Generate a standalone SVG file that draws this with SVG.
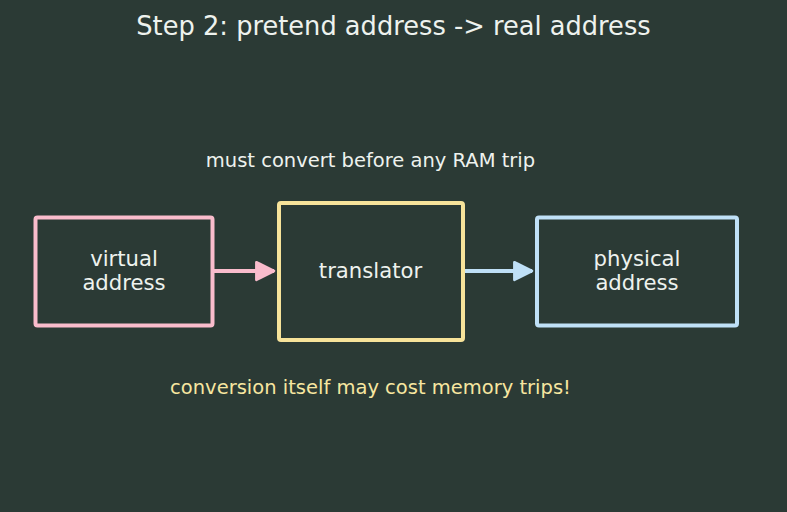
<svg xmlns="http://www.w3.org/2000/svg" width="787" height="512" viewBox="0 0 787 512">
<defs>
<style>
text{font-family:"DejaVu Sans","Liberation Sans",sans-serif;text-anchor:middle}
.title{font-size:25.7px;fill:#eef2ee}
.lbl{font-size:21.2px;fill:#eef2ee}
.note{font-size:19.5px;fill:#eef2ee}
.warn{font-size:19.5px;fill:#f7e6a0}
.box{fill:#2b3a35;stroke-width:4}
.edge{fill:none;stroke-width:4}
</style>
<marker id="ahP" viewBox="0 0 10 10" refX="9" refY="5" markerWidth="5.5" markerHeight="5.5" markerUnits="strokeWidth" orient="auto"><path d="M1,1 L9,5 L1,9 Z" fill="#f9bccc" stroke="#f9bccc" stroke-width="1.2" stroke-linejoin="round"/></marker>
<marker id="ahB" viewBox="0 0 10 10" refX="9" refY="5" markerWidth="5.5" markerHeight="5.5" markerUnits="strokeWidth" orient="auto"><path d="M1,1 L9,5 L1,9 Z" fill="#bfe0f7" stroke="#bfe0f7" stroke-width="1.2" stroke-linejoin="round"/></marker>
</defs>
<rect width="787" height="512" fill="#2b3a35"/>
<text class="title" x="393.5" y="35">Step 2: pretend address -&gt; real address</text>
<text class="note" x="370.5" y="167">must convert before any RAM trip</text>
<text class="warn" x="370.5" y="394">conversion itself may cost memory trips!</text>
<g id="connectors">
<path class="edge" d="M213,271 H274" stroke="#f9bccc" marker-end="url(#ahP)"/>
<path class="edge" d="M465,271 H532" stroke="#bfe0f7" marker-end="url(#ahB)"/>
</g>
<g id="virtual">
<rect class="box" x="35.5" y="217.5" width="177" height="108" rx="2" stroke="#f9bccc"/>
<text class="lbl" x="124" y="266">virtual</text>
<text class="lbl" x="124" y="290">address</text>
</g>
<g id="translator">
<rect class="box" x="279" y="203" width="184" height="137" rx="2" stroke="#f7e39a"/>
<text class="lbl" x="370.5" y="278">translator</text>
</g>
<g id="physical">
<rect class="box" x="537" y="217.5" width="200" height="108" rx="2" stroke="#bfe0f7"/>
<text class="lbl" x="637" y="266">physical</text>
<text class="lbl" x="637" y="290">address</text>
</g>
</svg>
